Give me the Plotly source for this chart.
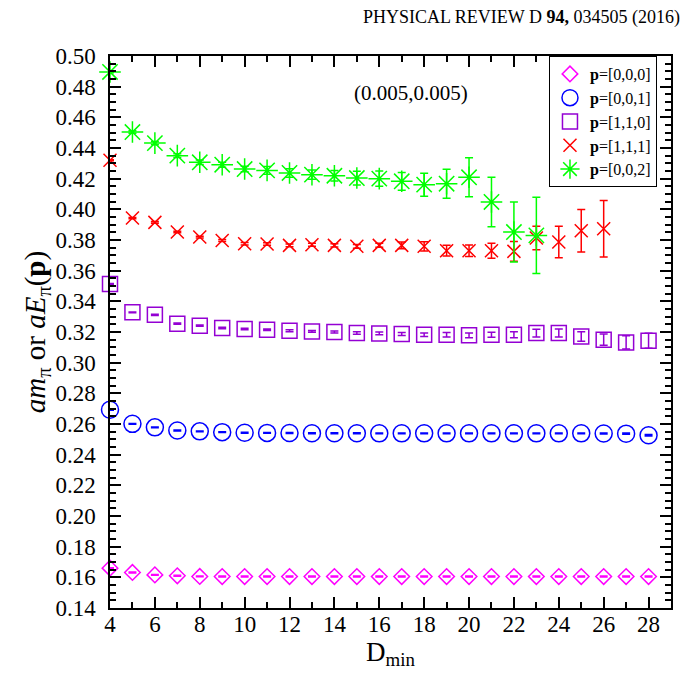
import plotly.graph_objects as go

D = list(range(4, 29))
D_111 = list(range(4, 27))
D_002 = list(range(4, 24))

E_000 = [0.1660, 0.1632, 0.1616, 0.1610, 0.1606, 0.1605, 0.1605, 0.1605, 0.1605, 0.1605,
         0.1605, 0.1605, 0.1605, 0.1605, 0.1605, 0.1605, 0.1605, 0.1605, 0.1605, 0.1605,
         0.1605, 0.1605, 0.1605, 0.1605, 0.1605]
ERR_000 = [0.0003] * 25

E_001 = [0.2693, 0.2601, 0.2578, 0.2558, 0.2552, 0.2547, 0.2543, 0.2542, 0.2541, 0.2540,
         0.2540, 0.2540, 0.2539, 0.2539, 0.2539, 0.2539, 0.2539, 0.2539, 0.2539, 0.2539,
         0.2539, 0.2539, 0.2538, 0.2537, 0.2527]
ERR_001 = [0.0003, 0.0003, 0.0003, 0.0003, 0.0003, 0.0003, 0.0003, 0.0003, 0.0003, 0.0003,
           0.0003, 0.0003, 0.0003, 0.0003, 0.0003, 0.0003, 0.0003, 0.0003, 0.0003, 0.0003,
           0.0003, 0.0003, 0.0004, 0.0004, 0.0005]

E_110 = [0.3513, 0.3328, 0.3312, 0.3254, 0.3241, 0.3226, 0.3219, 0.3215, 0.3208, 0.3204,
         0.3200, 0.3193, 0.3191, 0.3187, 0.3182, 0.3182, 0.3178, 0.3182, 0.3182, 0.3193,
         0.3193, 0.3171, 0.3150, 0.3132, 0.3143]
ERR_110 = [0.0003, 0.0003, 0.0004, 0.0004, 0.0004, 0.0005, 0.0005, 0.0005, 0.0006, 0.0006,
           0.0007, 0.0008, 0.0009, 0.0010, 0.0012, 0.0014, 0.0015, 0.0017, 0.0020, 0.0025,
           0.0026, 0.0031, 0.0037, 0.0043, 0.0049]

E_111 = [0.4320, 0.3943, 0.3915, 0.3852, 0.3819, 0.3797, 0.3776, 0.3774, 0.3765, 0.3769,
         0.3765, 0.3759, 0.3765, 0.3765, 0.3759, 0.3730, 0.3730, 0.3730, 0.3726, 0.3813,
         0.3787, 0.3860, 0.3873]
ERR_111 = [0.0003, 0.0004, 0.0005, 0.0005, 0.0006, 0.0007, 0.0008, 0.0008, 0.0009, 0.0010,
           0.0011, 0.0012, 0.0013, 0.0022, 0.0030, 0.0035, 0.0037, 0.0049, 0.0065, 0.0076,
           0.0103, 0.0139, 0.0184]

E_002 = [0.4896, 0.4504, 0.4432, 0.4350, 0.4307, 0.4291, 0.4263, 0.4254, 0.4237, 0.4226,
         0.4219, 0.4204, 0.4200, 0.4183, 0.4161, 0.4167, 0.4209, 0.4048, 0.3852, 0.3830]
ERR_002 = [0.0005, 0.0008, 0.0010, 0.0012, 0.0014, 0.0016, 0.0018, 0.0025, 0.0028, 0.0030,
           0.0035, 0.0045, 0.0050, 0.0058, 0.0075, 0.0095, 0.0127, 0.0162, 0.0196, 0.0249]

FONT = "Liberation Serif"

series = [
    ("<b>p</b>=[0,0,0]", D, E_000, ERR_000, "#ff00ff", "diamond-open", 12),
    ("<b>p</b>=[0,0,1]", D, E_001, ERR_001, "#0000ff", "circle-open", 17),
    ("<b>p</b>=[1,1,0]", D, E_110, ERR_110, "#9400d3", "square-open", 15),
    ("<b>p</b>=[1,1,1]", D_111, E_111, ERR_111, "#ff0000", "x-thin-open", 13),
    ("<b>p</b>=[0,0,2]", D_002, E_002, ERR_002, "#00ff00", "asterisk-open", 18),
]

fig = go.Figure()
for name, x, y, e, col, sym, sz in series:
    fig.add_trace(go.Scatter(
        x=x, y=y, name=name, mode="markers", cliponaxis=False,
        marker=dict(symbol=sym, size=sz, color=col, line=dict(color=col, width=1.5)),
        error_y=dict(type="data", array=e, visible=True, color=col, thickness=1.5, width=4),
    ))

axis_common = dict(
    showline=True, linecolor="black", linewidth=2, mirror="allticks",
    ticks="inside", ticklen=11, tickwidth=1.5, tickcolor="black",
    showgrid=False, zeroline=False,
    tickfont=dict(family=FONT, size=23, color="black"),
)

fig.update_xaxes(
    range=[4, 29], tick0=4, dtick=2, ticklabelstandoff=-6,
    minor=dict(dtick=1, ticks="inside", ticklen=6, tickwidth=1.5, tickcolor="black"),
    title=dict(text="D<sub>min</sub>", font=dict(family=FONT, size=27, color="black"), standoff=0),
    **axis_common,
)
fig.update_yaxes(
    range=[0.14, 0.50], tick0=0.14, dtick=0.02, tickformat=".2f",
    ticksuffix="\u00a0\u200a",
    minor=dict(dtick=0.005, ticks="inside", ticklen=6, tickwidth=1.5, tickcolor="black"),
    title=dict(text="<i>am</i><sub>π</sub> or <i>aE</i><sub>π</sub>(<b>p</b>)",
               font=dict(family=FONT, size=29, color="black"), standoff=0),
    **axis_common,
)

fig.add_annotation(
    x=17.4, y=0.4756, xref="x", yref="y", text="(0.005,0.005)", showarrow=False,
    font=dict(family=FONT, size=21, color="black"),
)
fig.add_annotation(
    x=1.02, y=1.07, xref="paper", yref="paper", xanchor="right", yanchor="middle",
    text="PHYSICAL REVIEW D <b>94,</b> 034505 (2016)", showarrow=False,
    font=dict(family=FONT, size=18, color="black"),
)

fig.update_layout(
    width=689, height=675,
    margin=dict(l=102, r=26, t=48, b=75),
    paper_bgcolor="white", plot_bgcolor="white",
    font=dict(family=FONT, color="black"),
    legend=dict(
        x=0.975, y=1.0, xanchor="right", yanchor="top",
        bordercolor="black", borderwidth=1, bgcolor="white",
        font=dict(family=FONT, size=16, color="black"),
        tracegroupgap=0, itemwidth=30,
    ),
)

fig.write_html("out.html")
